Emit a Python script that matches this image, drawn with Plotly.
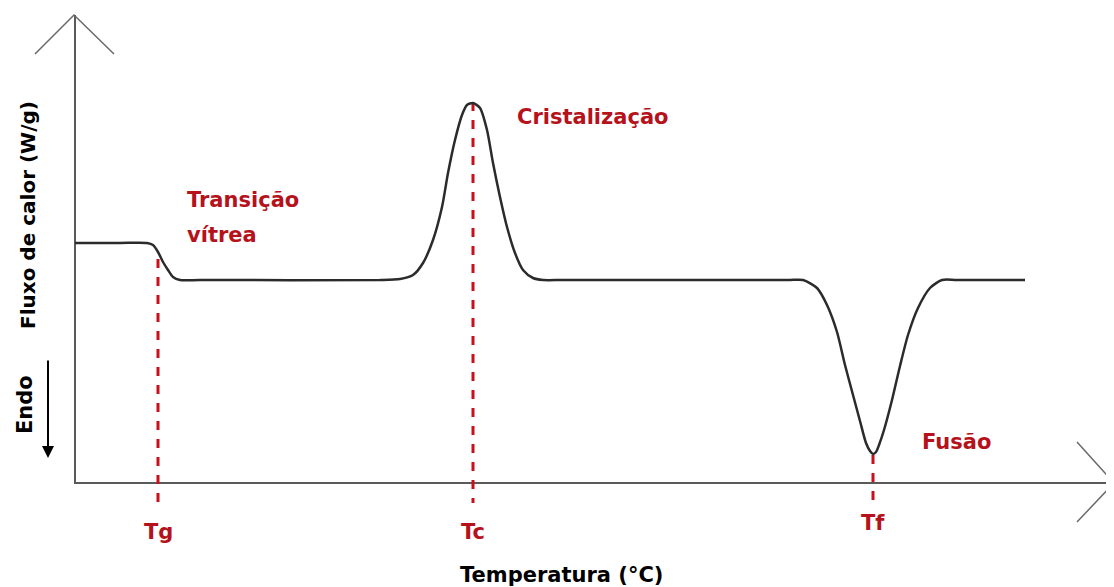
import plotly.graph_objects as go

# DSC curve (temperature and heat flow in arbitrary units)
temperatura = [0.0, 4.5, 7.2, 7.8, 8.3, 8.8, 9.3, 9.8, 10.5, 12.5, 30.5, 32.5, 33.8, 34.8,
               35.8, 36.7, 37.3, 38.0, 38.7, 39.2, 39.8, 40.5, 41.2, 41.8, 42.5, 43.2, 44.0,
               44.8, 45.8, 46.8, 48.8, 69.5, 71.5, 72.8, 74.2, 75.2, 76.2, 77.0, 77.8, 78.5,
               79.1, 79.5, 79.8, 80.1, 80.4, 80.9, 81.7, 82.5, 83.3, 84.3, 85.5, 86.7, 88.2, 95.0]
fluxo = [24.0, 24.0, 24.0, 23.8, 23.1, 22.1, 21.3, 20.6, 20.3, 20.3, 20.3, 20.4, 20.8, 22.0,
         24.3, 27.6, 31.0, 34.3, 36.8, 37.8, 38.0, 37.5, 35.3, 32.0, 28.6, 25.6, 23.0,
         21.3, 20.5, 20.3, 20.3, 20.3, 20.3, 20.3, 19.5, 17.8, 15.1, 11.8, 8.8, 6.2,
         4.0, 3.2, 2.9, 3.1, 3.8, 5.3, 8.3, 11.7, 14.8, 17.5, 19.5, 20.3, 20.3, 20.3]

# characteristic temperatures
marcas = ["Tg", "Tc", "Tf"]
marcas_t = [8.3, 39.8, 79.8]
marcas_f = [22.4, 38.1, 2.8]
marcas_rotulo_f = [-4.9, -4.9, -4.0]

eventos = ["Transição", "vítrea", "Cristalização", "Fusão"]
eventos_t = [11.0, 11.0, 44.0, 84.5]
eventos_f = [28.3, 24.8, 36.6, 4.1]

RED = "#b5121b"
DASH = "#c8101c"
FONT = "DejaVu Sans"

fig = go.Figure()

# axes with open arrow heads
fig.add_trace(go.Scatter(x=[0, 0, 103.9], y=[46.8, 0, 0], mode="lines",
                         line=dict(color="#5a5a5a", width=2), hoverinfo="skip"))
fig.add_trace(go.Scatter(x=[-4.0, -0.1, 3.9], y=[42.9, 46.8, 42.9], mode="lines",
                         line=dict(color="#6a6a6a", width=1.5), hoverinfo="skip"))
fig.add_trace(go.Scatter(x=[100.2, 103.9, 100.2], y=[4.1, 0, -3.9], mode="lines",
                         line=dict(color="#6a6a6a", width=1.5), hoverinfo="skip"))

# dashed markers
for t, f in zip(marcas_t, marcas_f):
    fig.add_trace(go.Scatter(x=[t, t], y=[f, -2.0], mode="lines",
                             line=dict(color=DASH, width=3, dash="dash"), hoverinfo="skip"))

# curve
fig.add_trace(go.Scatter(x=temperatura, y=fluxo, mode="lines",
                         line=dict(color="#2b2b2b", width=2.5, shape="spline", smoothing=0.7)))

for nome, t, f in zip(marcas, marcas_t, marcas_rotulo_f):
    fig.add_annotation(x=t, y=f, text=f"<b>{nome}</b>",
                       showarrow=False, font=dict(family=FONT, size=21, color=RED))

for nome, t, f in zip(eventos, eventos_t, eventos_f):
    fig.add_annotation(x=t, y=f, text=f"<b>{nome}</b>", xanchor="left", showarrow=False,
                       font=dict(family=FONT, size=21, color=RED))

fig.add_annotation(x=-4.7, y=26.8, text="<b>Fluxo de calor (W/g)</b>", textangle=-90,
                   showarrow=False, font=dict(family=FONT, size=20, color="black"))
fig.add_annotation(x=-5.0, y=7.8, text="<b>Endo</b>", textangle=-90,
                   showarrow=False, font=dict(family=FONT, size=21, color="black"))
fig.add_annotation(x=-2.7, y=2.5, ax=-2.7, ay=12.4, axref="x", ayref="y", text="",
                   showarrow=True, arrowhead=2, arrowsize=1.2, arrowwidth=2, arrowcolor="black")
fig.add_annotation(x=48.6, y=-9.2, text="<b>Temperatura (°C)</b>", showarrow=False,
                   font=dict(family=FONT, size=21, color="black"))

# page body has an 8px margin, so the figure is sized to the remaining area
fig.update_layout(
    width=1106, height=579, autosize=False,
    margin=dict(l=0, r=0, t=0, b=0),
    paper_bgcolor="white", plot_bgcolor="white",
    showlegend=False,
    xaxis=dict(range=[-6.7, 103.9], visible=False, fixedrange=True),
    yaxis=dict(range=[-10.4, 47.5], visible=False, fixedrange=True),
)

fig.write_html("out.html")
